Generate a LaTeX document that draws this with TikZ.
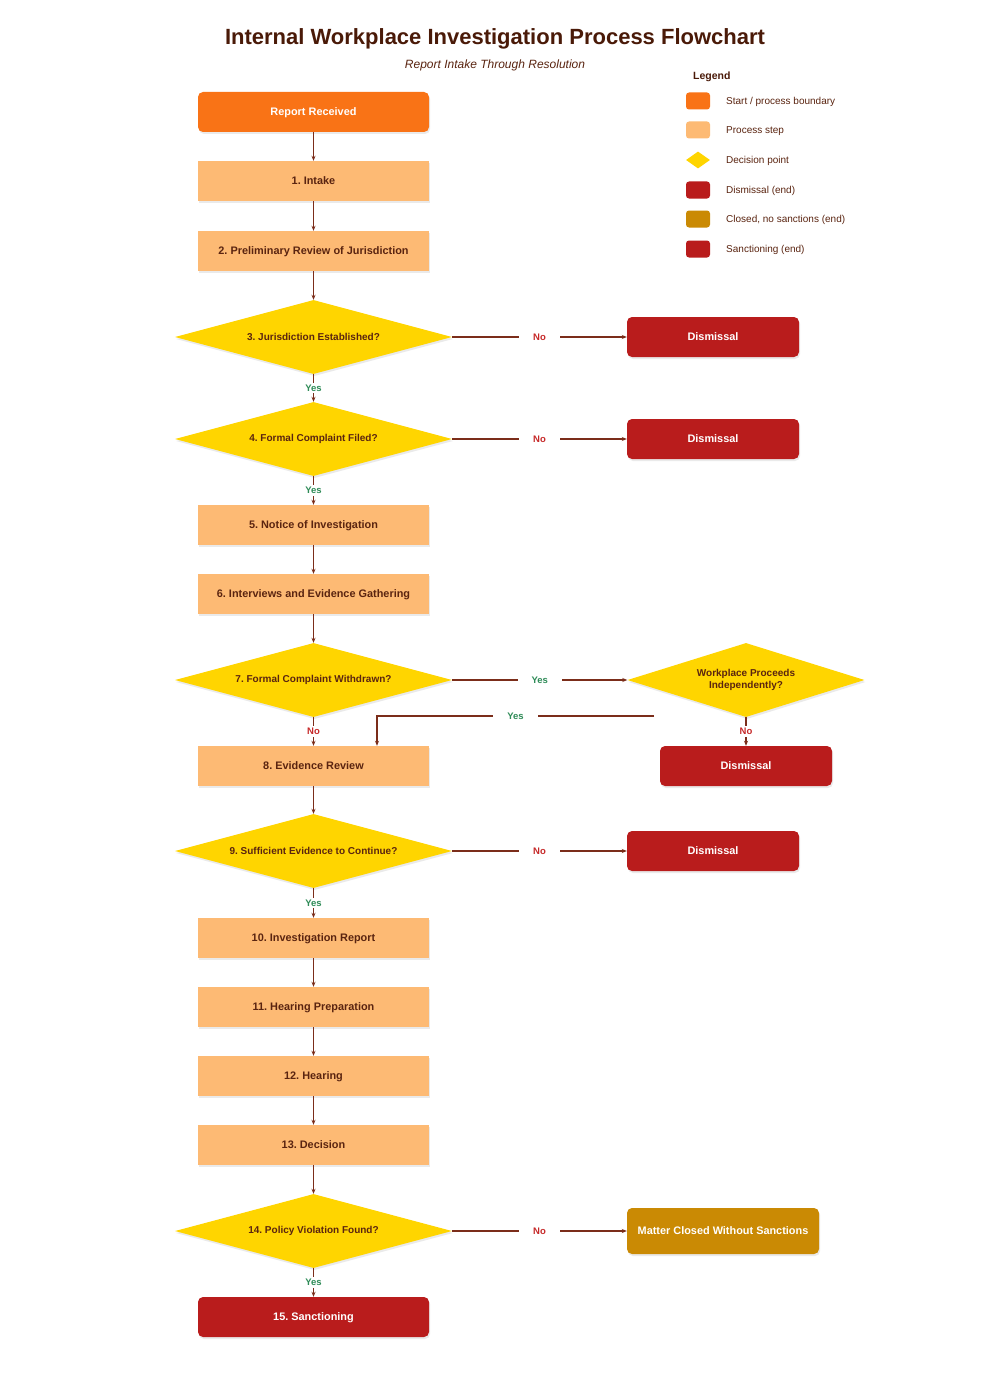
\documentclass[tikz,border=0pt]{standalone}
\usepackage{fontspec}
\setmainfont{Liberation Sans}
\frenchspacing
\usetikzlibrary{shapes.geometric,arrows.meta,shadows}
\definecolor{startc}{HTML}{F97316}
\definecolor{procc}{HTML}{FDBA74}
\definecolor{decc}{HTML}{FFD500}
\definecolor{dismc}{HTML}{B91C1C}
\definecolor{closc}{HTML}{CA8A04}
\definecolor{txtc}{HTML}{5A2410}
\definecolor{titc}{HTML}{4A1A08}
\definecolor{edgec}{HTML}{7B2D1A}
\definecolor{yesc}{HTML}{2E8B57}
\definecolor{noc}{HTML}{C62828}
\tikzset{
  shad/.style={drop shadow={opacity=0.16,shadow xshift=1pt,shadow yshift=-2pt}},
  procbox/.style={shad,rectangle,fill=procc,text=txtc,minimum width=231pt,minimum height=40pt,inner sep=0pt,
    font=\bfseries\fontsize{10.9}{12}\selectfont,align=center,text depth=0pt},
  startbox/.style={procbox,fill=startc,text=white,rounded corners=5pt},
  endbox/.style={procbox,fill=dismc,text=white,rounded corners=5pt,minimum width=172pt},
  closbox/.style={endbox,fill=closc,minimum width=192pt,minimum height=46pt},
  decision/.style={shad,diamond,fill=decc,text=txtc,aspect=3.74,minimum width=277pt,minimum height=74pt,inner sep=0pt,
    font=\bfseries\fontsize{10}{12}\selectfont,align=center},
  edge/.style={draw=edgec,line width=1.1pt,-{Stealth[length=5pt,width=4pt]}},
  yeslab/.style={fill=white,text=yesc,font=\bfseries\fontsize{9.5}{10}\selectfont,inner xsep=14pt,inner ysep=2pt},
  nolab/.style={fill=white,text=noc,font=\bfseries\fontsize{9.5}{10}\selectfont,inner xsep=14pt,inner ysep=2pt},
  legsw/.style={rectangle,rounded corners=3pt,minimum width=24pt,minimum height=17pt,inner sep=0pt},
  legtx/.style={anchor=west,text=txtc,font=\fontsize{10}{11}\selectfont,inner sep=0pt},
}
\begin{document}
\begin{tikzpicture}[x=1pt,y=-1pt]
\useasboundingbox[fill=white] (0,0) rectangle (990,1399);
% title
\node[text=titc,font=\bfseries\fontsize{22}{26}\selectfont] (title) at (495,38.5) {Internal Workplace Investigation Process Flowchart};
\node[text=txtc,font=\itshape\fontsize{12}{14}\selectfont] (subtitle) at (495,65) {Report Intake Through Resolution};
% legend
\node[anchor=west,text=titc,font=\bfseries\fontsize{10.5}{12}\selectfont,inner sep=0pt] (legend) at (693,77) {Legend};
\node[legsw,fill=startc] (l1) at (698,101) {};
\node[legtx] (l1t) at (726,102) {Start / process boundary};
\node[legsw,fill=procc] (l2) at (698,130) {};
\node[legtx] (l2t) at (726,131) {Process step};
\node[diamond,fill=decc,minimum width=24pt,minimum height=17pt,inner sep=0pt,aspect=1.4] (l3) at (698,160) {};
\node[legtx] (l3t) at (726,161) {Decision point};
\node[legsw,fill=dismc] (l4) at (698,190) {};
\node[legtx] (l4t) at (726,191) {Dismissal (end)};
\node[legsw,fill=closc] (l5) at (698,219) {};
\node[legtx] (l5t) at (726,220) {Closed, no sanctions (end)};
\node[legsw,fill=dismc] (l6) at (698,249) {};
\node[legtx] (l6t) at (726,250) {Sanctioning (end)};
% main column
\node[startbox] (start) at (313.5,112) {Report Received};
\node[procbox] (s1) at (313.5,181) {1. Intake};
\node[procbox] (s2) at (313.5,251) {2. Preliminary Review of Jurisdiction};
\node[decision] (d3) at (313.5,337) {3. Jurisdiction Established?};
\node[decision] (d4) at (313.5,439) {4. Formal Complaint Filed?};
\node[procbox] (s5) at (313.5,525) {5. Notice of Investigation};
\node[procbox] (s6) at (313.5,594) {6. Interviews and Evidence Gathering};
\node[decision] (d7) at (313.5,680) {7. Formal Complaint Withdrawn?};
\node[procbox] (s8) at (313.5,766) {8. Evidence Review};
\node[decision] (d9) at (313.5,851) {9. Sufficient Evidence to Continue?};
\node[procbox] (s10) at (313.5,938) {10. Investigation Report};
\node[procbox] (s11) at (313.5,1007) {11. Hearing Preparation};
\node[procbox] (s12) at (313.5,1076) {12. Hearing};
\node[procbox] (s13) at (313.5,1145) {13. Decision};
\node[decision] (d14) at (313.5,1231) {14. Policy Violation Found?};
\node[endbox,minimum width=231pt] (s15) at (313.5,1317) {15. Sanctioning};
% right column
\node[endbox] (e3) at (713,337) {Dismissal};
\node[endbox] (e4) at (713,439) {Dismissal};
\node[decision,minimum width=237pt,aspect=3.2] (wp) at (746,680) {Workplace Proceeds\\Independently?};
\node[endbox] (e7) at (746,766) {Dismissal};
\node[endbox] (e9) at (713,851) {Dismissal};
\node[closbox] (c14) at (723,1231) {Matter Closed Without Sanctions};
\coordinate (wpy) at (654,716);
% edges
\draw[edge] (start) -- (s1);
\draw[edge] (s1) -- (s2);
\draw[edge] (s2) -- (d3);
\draw[edge] (d3) -- node[nolab] {No} (e3);
\draw[edge] (d3) -- node[yeslab] {Yes} (d4);
\draw[edge] (d4) -- node[nolab] {No} (e4);
\draw[edge] (d4) -- node[yeslab] {Yes} (s5);
\draw[edge] (s5) -- (s6);
\draw[edge] (s6) -- (d7);
\draw[edge] (d7) -- node[yeslab] {Yes} (wp);
\draw[edge] (d7) -- node[nolab] {No} (s8);
\draw[edge] (wpy) -| node[yeslab,pos=0.25] {Yes} (s8.north -| 377,0);
\draw[edge] (wp) -- node[nolab] {No} (e7);
\draw[edge] (s8) -- (d9);
\draw[edge] (d9) -- node[nolab] {No} (e9);
\draw[edge] (d9) -- node[yeslab] {Yes} (s10);
\draw[edge] (s10) -- (s11);
\draw[edge] (s11) -- (s12);
\draw[edge] (s12) -- (s13);
\draw[edge] (s13) -- (d14);
\draw[edge] (d14) -- node[nolab] {No} (c14);
\draw[edge] (d14) -- node[yeslab] {Yes} (s15);
\end{tikzpicture}
\end{document}
